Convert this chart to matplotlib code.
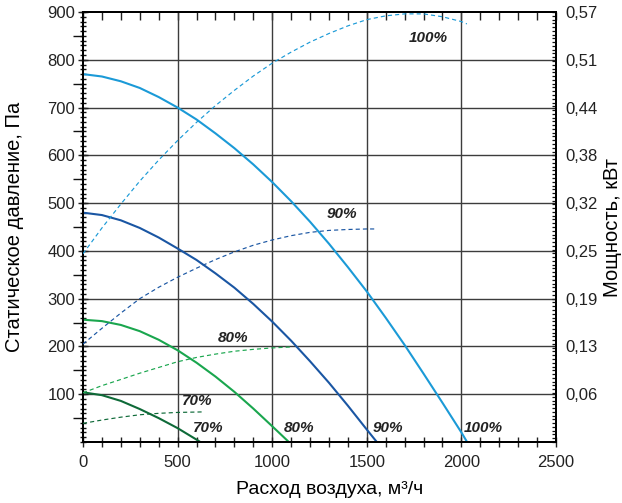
import matplotlib
matplotlib.use("Agg")
import matplotlib.pyplot as plt
from matplotlib.ticker import MultipleLocator, FixedLocator, NullFormatter

plt.rcParams.update({"font.family": ["Liberation Sans", "DejaVu Sans"], "font.size": 12,
                     "text.color": "#222222", "xtick.color": "#222222", "ytick.color": "#222222"})

# static pressure curves: flow (m3/h) -> Pa
q100 = [0, 100, 200, 300, 400, 500, 600, 700, 800, 900, 1000, 1100, 1200, 1300, 1400,
        1500, 1600, 1700, 1800, 1900, 2000, 2030]
p100 = [770, 765, 755, 741, 722, 700, 675, 646, 615, 581, 544, 504, 461, 415, 366,
        315, 260, 203, 143, 82, 20, 0]
q90 = [0, 100, 200, 300, 400, 500, 600, 700, 800, 900, 1000, 1100, 1200, 1300, 1400, 1500, 1553]
p90 = [480, 475, 464, 448, 428, 405, 381, 353, 323, 289, 252, 212, 169, 124, 76, 26, 0]
q80 = [0, 100, 200, 300, 400, 500, 600, 700, 800, 900, 1000, 1088]
p80 = [256, 253, 245, 232, 214, 192, 166, 137, 105, 70, 33, 0]
q70 = [0, 100, 200, 300, 400, 500, 600, 620]
p70 = [104, 98, 86, 69, 50, 29, 5, 0]

# power curves: flow (m3/h) -> kW
w100_q = [0, 100, 200, 300, 400, 500, 600, 700, 800, 900, 1000, 1100, 1200, 1300, 1400,
          1500, 1600, 1700, 1800, 1900, 2000, 2029]
w100 = [0.2495, 0.2837, 0.3154, 0.3458, 0.3737, 0.3996, 0.4237, 0.4459, 0.4661, 0.4851,
        0.5022, 0.5168, 0.5301, 0.5415, 0.5516, 0.5599, 0.5649, 0.5675, 0.5675, 0.5637,
        0.5573, 0.5542]
w90_q = [0, 100, 200, 300, 400, 500, 600, 700, 800, 900, 1000, 1100, 1200, 1300, 1400, 1500, 1553]
w90 = [0.1298, 0.1507, 0.1709, 0.1900, 0.2051, 0.2184, 0.2304, 0.2418, 0.2520, 0.2608,
       0.2678, 0.2735, 0.2779, 0.2805, 0.2817, 0.2824, 0.2824]
w80_q = [0, 100, 200, 300, 400, 500, 600, 700, 800, 900, 1000, 1100]
w80 = [0.0652, 0.0747, 0.0829, 0.0912, 0.0988, 0.1064, 0.1121, 0.1165, 0.1203, 0.1228,
       0.1247, 0.1260]
w70_q = [0, 100, 200, 300, 400, 500, 636]
w70 = [0.0247, 0.0291, 0.0329, 0.0361, 0.0380, 0.0392, 0.0399]

colors = {"100": "#1b9ad7", "90": "#1a56a3", "80": "#1aa64e", "70": "#0e6a38"}
kw_ticks = [0.06, 0.13, 0.19, 0.25, 0.32, 0.38, 0.44, 0.51, 0.57]

fig = plt.figure(figsize=(6.22, 5.03), dpi=100)
ax = fig.add_axes([83 / 622, 61 / 503, 473 / 622, 430 / 503])
ax2 = ax.twinx()

ax.set_xlim(0, 2500)
ax.set_ylim(0, 900)
ax2.set_ylim(0, 0.57)

# grid
for x in [500, 1000, 1500, 2000]:
    ax.axvline(x, color="#3c3c3c", lw=1.0, zorder=1)
for y in range(100, 900, 100):
    ax.axhline(y, color="#3c3c3c", lw=1.0, zorder=1)

for q, p, k in [(q100, p100, "100"), (q90, p90, "90"), (q80, p80, "80"), (q70, p70, "70")]:
    ax.plot(q, p, color=colors[k], lw=1.5, zorder=3, solid_capstyle="butt")
for q, w, k in [(w100_q, w100, "100"), (w90_q, w90, "90"), (w80_q, w80, "80"), (w70_q, w70, "70")]:
    ax2.plot(q, w, color=colors[k], lw=0.85, dashes=(3.5, 2.6), zorder=3)

lab = dict(fontsize=11, fontweight="bold", fontstyle="italic", color="#222222",
           ha="center", va="center", zorder=4)
ax.text(1823, 846, "100%", **lab)
ax.text(1369, 477, "90%", **lab)
ax.text(793, 217, "80%", **lab)
ax.text(602, 85, "70%", **lab)
ax.text(661, 29, "70%", **lab)
ax.text(1142, 29, "80%", **lab)
ax.text(1612, 29, "90%", **lab)
ax.text(2115, 29, "100%", **lab)

# x ticks: bottom crossing the spine, top pointing inward
ax.xaxis.set_major_locator(MultipleLocator(500))
ax.xaxis.set_minor_locator(MultipleLocator(100))
ax.tick_params(axis="x", which="both", direction="inout", length=6.5, width=1, top=False,
               labelsize=12, pad=6)
top = ax.secondary_xaxis("top")
top.xaxis.set_major_locator(MultipleLocator(100))
top.tick_params(direction="in", length=5.5, width=1, labeltop=False)

# left y ticks: labels every 100, comb every 10, longer marks at 50s
ax.yaxis.set_major_locator(FixedLocator(list(range(100, 1000, 100))))
ax.tick_params(axis="y", which="major", direction="inout", length=7, width=1, labelsize=12, pad=2)
comb = ax.secondary_yaxis("left")
comb.yaxis.set_major_locator(MultipleLocator(10))
comb.yaxis.set_major_formatter(NullFormatter())
comb.tick_params(direction="inout", length=5, width=1.0, color="#111111")
half = ax.secondary_yaxis("left")
half.yaxis.set_major_locator(FixedLocator(list(range(50, 900, 100))))
half.yaxis.set_major_formatter(NullFormatter())
half.tick_params(direction="out", length=7, width=1.0, color="#111111")

# right y ticks (kW)
ax2.yaxis.set_major_locator(FixedLocator([0.57 * k / 9 for k in range(1, 10)]))
ax2.set_yticklabels([f"{v:.2f}".replace(".", ",") for v in kw_ticks])
ax2.tick_params(axis="y", which="major", direction="in", length=3, width=0.8, labelsize=12, pad=7)
rcomb = ax2.secondary_yaxis("right")
rcomb.yaxis.set_major_locator(MultipleLocator(0.005))
rcomb.yaxis.set_major_formatter(NullFormatter())
rcomb.tick_params(direction="in", length=3, width=0.9, color="#111111")

for a in (ax, ax2, top, comb, half, rcomb):
    for s in a.spines.values():
        s.set_linewidth(1.4)

ax.set_xlabel("Расход воздуха, м³/ч", fontsize=14)
ax.xaxis.set_label_coords(0.522, -0.09)
ax.set_ylabel("Статическое давление, Па", fontsize=14.5)
ax.yaxis.set_label_coords(-0.125, 0.5)
ax2.set_ylabel("Мощность, кВт", fontsize=14.5)
ax2.yaxis.set_label_coords(1.099, 0.5)

fig.savefig("out.png", dpi=100)
